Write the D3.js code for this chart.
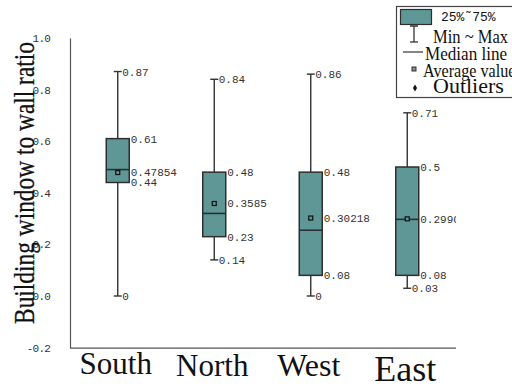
<!DOCTYPE html>
<html>
<head>
<meta charset="utf-8">
<script src="https://cdn.jsdelivr.net/npm/d3@7"></script>
<style>
  html, body { margin: 0; padding: 0; background: #fff; }
  svg { display: block; }
</style>
</head>
<body>
<svg id="chart" width="512" height="387"></svg>
<script>
// ---- data ----
const categories = ["South", "North", "West", "East"];
const minVals    = [0, 0.14, 0, 0.03];
const q1Vals     = [0.44, 0.23, 0.08, 0.08];
const medianVals = [0.49, 0.32, 0.255, 0.297];
const meanVals   = [0.47854, 0.3585, 0.30218, 0.29905];
const q3Vals     = [0.61, 0.48, 0.48, 0.5];
const maxVals    = [0.87, 0.84, 0.86, 0.71];
const yTicks     = [-0.2, 0.0, 0.2, 0.4, 0.6, 0.8, 1.0];
const yTickLabels = ["-0.2", "0.0", "0.2", "0.4", "0.6", "0.8", "1.0"];

// ---- style ----
const boxFill = "#5f9797";
const dark = "#2e2e2e";
const catFont = { South: 31, North: 31, West: 32, East: 36 };
const catBase = { South: 374, North: 376, West: 376, East: 381 };

const svg = d3.select("#chart");
const x = d3.scaleBand().domain(categories).range([69.5, 455.5]).padding(0);
const y = d3.scaleLinear().domain([-0.2, 1.0]).range([347.6, 38]);
const bw = 23;
const capW = 8;

const rows = categories.map((c, i) => ({
  cat: c, min: minVals[i], q1: q1Vals[i], med: medianVals[i],
  mean: meanVals[i], q3: q3Vals[i], max: maxVals[i]
}));

// clip for plot region
svg.append("defs").append("clipPath").attr("id", "plotclip")
  .append("rect").attr("x", 60).attr("y", 0).attr("width", 456 - 60).attr("height", 387);

// axes
const yAxis = d3.axisLeft(y).tickValues(yTicks)
  .tickFormat((d, i) => yTickLabels[i]).tickSize(0).tickPadding(20);
const gy = svg.append("g").attr("transform", "translate(70,0)").call(yAxis);
gy.attr("font-size", null).attr("font-family", null);
gy.select(".domain").attr("stroke", "#555").attr("stroke-width", 1.2);
gy.selectAll("text")
  .style("font-family", "Liberation Mono, DejaVu Sans Mono, monospace")
  .style("font-size", "11px").style("letter-spacing", "-0.8px").attr("fill", "#333");

const xAxis = d3.axisBottom(x).tickSize(0).tickFormat("");
const gx = svg.append("g").attr("transform", `translate(0,${y(-0.2)})`).call(xAxis);
gx.select(".domain").attr("d", `M70,0.5H456`).attr("stroke", "#555").attr("stroke-width", 1.2);

// category labels
svg.append("g").selectAll("text").data(categories).join("text")
  .attr("x", d => x(d) + x.bandwidth() / 2 - 2)
  .attr("y", d => catBase[d])
  .attr("text-anchor", "middle")
  .attr("font-family", "Liberation Serif, Times New Roman, serif")
  .attr("font-size", d => catFont[d])
  .attr("fill", "#111")
  .text(d => d);

// y title
svg.append("text")
  .attr("transform", "translate(34,183) rotate(-90) scale(0.78,1)")
  .attr("text-anchor", "middle")
  .attr("font-family", "Liberation Serif, Times New Roman, serif")
  .attr("font-size", 30)
  .attr("fill", "#111")
  .attr("stroke", "#111").attr("stroke-width", 0.3)
  .text("Building window to wall ratio");

// boxes
const g = svg.append("g");
const cx = d => x(d.cat) + x.bandwidth() / 2;

// whiskers
g.selectAll("line.wh").data(rows).join("line").attr("class", "wh")
  .attr("x1", cx).attr("x2", cx)
  .attr("y1", d => y(d.min)).attr("y2", d => y(d.max))
  .attr("stroke", "#333").attr("stroke-width", 1.4);
g.selectAll("line.capmax").data(rows).join("line").attr("class", "capmax")
  .attr("x1", d => cx(d) - capW / 2).attr("x2", d => cx(d) + capW / 2)
  .attr("y1", d => y(d.max)).attr("y2", d => y(d.max))
  .attr("stroke", "#333").attr("stroke-width", 1.4);
g.selectAll("line.capmin").data(rows).join("line").attr("class", "capmin")
  .attr("x1", d => cx(d) - capW / 2).attr("x2", d => cx(d) + capW / 2)
  .attr("y1", d => y(d.min)).attr("y2", d => y(d.min))
  .attr("stroke", "#333").attr("stroke-width", 1.4);

// box
g.selectAll("rect.box").data(rows).join("rect").attr("class", "box")
  .attr("x", d => cx(d) - bw / 2).attr("width", bw)
  .attr("y", d => y(d.q3)).attr("height", d => y(d.q1) - y(d.q3))
  .attr("fill", boxFill).attr("stroke", dark).attr("stroke-width", 1.5);
// median
g.selectAll("line.med").data(rows).join("line").attr("class", "med")
  .attr("x1", d => cx(d) - bw / 2).attr("x2", d => cx(d) + bw / 2)
  .attr("y1", d => y(d.med)).attr("y2", d => y(d.med))
  .attr("stroke", dark).attr("stroke-width", 1.6);
// mean
g.selectAll("rect.mean").data(rows).join("rect").attr("class", "mean")
  .attr("x", d => cx(d) - 2).attr("y", d => y(d.mean) - 2)
  .attr("width", 4).attr("height", 4)
  .attr("fill", boxFill).attr("stroke", "#111").attr("stroke-width", 1.2);

// value labels
const lbl = svg.append("g").attr("clip-path", "url(#plotclip)")
  .attr("font-family", "Liberation Mono, DejaVu Sans Mono, monospace")
  .attr("font-size", 11).attr("fill", "#333");
const fmt = v => String(v);
const labelItems = [];
rows.forEach(d => {
  labelItems.push({ x: cx(d) + capW / 2 + 0.5, v: d.max });
  labelItems.push({ x: cx(d) + bw / 2 + 1.5, v: d.q3 });
  labelItems.push({ x: cx(d) + bw / 2 + 1.5, v: d.mean });
  labelItems.push({ x: cx(d) + bw / 2 + 1.5, v: d.q1 });
  labelItems.push({ x: cx(d) + capW / 2 + 0.5, v: d.min });
});
lbl.selectAll("text").data(labelItems).join("text")
  .attr("x", d => d.x).attr("y", d => y(d.v))
  .attr("dy", "0.36em")
  .text(d => fmt(d.v));

// legend
const lg = svg.append("g");
lg.append("rect").attr("x", 396.5).attr("y", 6.5).attr("width", 140).attr("height", 91)
  .attr("fill", "#fff").attr("stroke", "#444").attr("stroke-width", 1.2);
lg.append("rect").attr("x", 400.5).attr("y", 9.5).attr("width", 31).attr("height", 15)
  .attr("fill", boxFill).attr("stroke", dark).attr("stroke-width", 1.2);
lg.append("text").attr("x", 441).attr("y", 21)
  .attr("font-family", "Liberation Mono, DejaVu Sans Mono, monospace")
  .attr("font-size", 13).attr("fill", "#111").text("25%˜75%");
// I symbol
lg.append("line").attr("x1", 414).attr("x2", 414).attr("y1", 26).attr("y2", 42).attr("stroke", "#333").attr("stroke-width", 1.3);
lg.append("line").attr("x1", 410).attr("x2", 418).attr("y1", 26).attr("y2", 26).attr("stroke", "#333").attr("stroke-width", 1.5);
lg.append("line").attr("x1", 410).attr("x2", 418).attr("y1", 42).attr("y2", 42).attr("stroke", "#333").attr("stroke-width", 1.3);
const serif = "Liberation Serif, Times New Roman, serif";
lg.append("text").attr("transform", "translate(433,43) scale(0.87,1)")
  .attr("font-family", serif).attr("font-size", 19).attr("fill", "#111").text("Min ~ Max");
// median line symbol
lg.append("line").attr("x1", 403).attr("x2", 423).attr("y1", 52).attr("y2", 52).attr("stroke", "#333").attr("stroke-width", 1.2);
lg.append("text").attr("transform", "translate(425,60) scale(0.9,1)")
  .attr("font-family", serif).attr("font-size", 19).attr("fill", "#111").text("Median line");
// average symbol
lg.append("rect").attr("x", 412).attr("y", 67).attr("width", 4).attr("height", 4)
  .attr("fill", "#888").attr("stroke", "#333").attr("stroke-width", 1);
lg.append("text").attr("transform", "translate(423,77) scale(0.85,1)")
  .attr("font-family", serif).attr("font-size", 19).attr("fill", "#111").text("Average value");
// outliers symbol
lg.append("path").attr("d", d3.symbol(d3.symbolDiamond, 14)()).attr("transform", "translate(415,88)").attr("fill", "#111");
lg.append("text").attr("x", 433).attr("y", 93)
  .attr("font-family", serif).attr("font-size", 22).attr("fill", "#111").text("Outliers");
</script>
</body>
</html>
